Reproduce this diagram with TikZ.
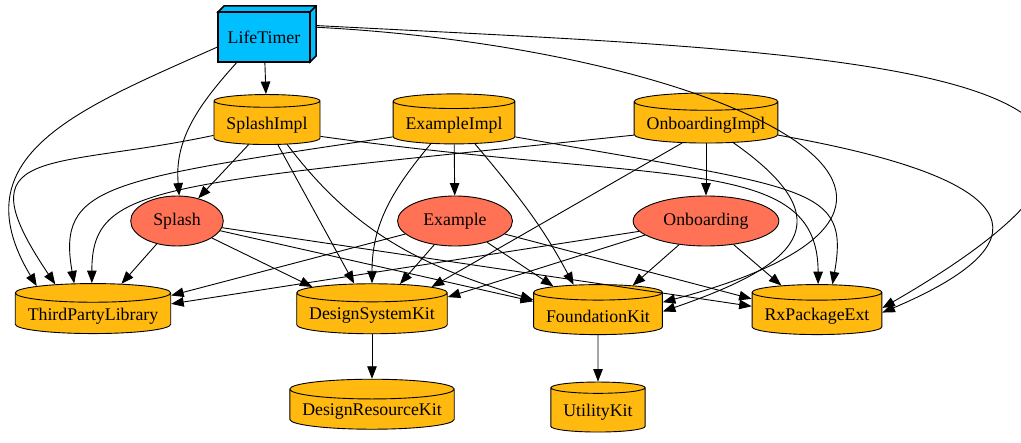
\documentclass[tikz,border=0pt]{standalone}
\usepackage{fontspec}
\setmainfont{Liberation Serif}
\usetikzlibrary{arrows.meta,shapes.geometric,positioning}
\definecolor{appblue}{HTML}{00BFFF}
\definecolor{modgold}{HTML}{FFB90F}
\definecolor{featcoral}{HTML}{FF7256}

\begin{document}
\begin{tikzpicture}[x=1pt,y=-1pt,->,>={Triangle[length=12.5pt,width=9.5pt]},line width=0.9pt,node distance=96pt,font=\fontsize{17.8}{20}\selectfont]
    \tikzstyle{app}=[rectangle,draw=black,fill=appblue,line width=1.5pt,outer sep=0pt,minimum width=92pt,minimum height=50pt]
    \tikzstyle{module}=[cylinder,shape border rotate=90,aspect=0.12,draw=black,fill=modgold,minimum height=50pt,inner xsep=12.5pt]
    \tikzstyle{feature}=[ellipse,draw=black,fill=featcoral,inner xsep=9pt,minimum height=50pt]
    \useasboundingbox (0,0) rectangle (1021,443);
    \node[app] (lt) at (264,37) {LifeTimer};
    \filldraw[-,fill=appblue,line width=1.5pt] (lt.north west) -- ++(6,-6) -- ([shift={(6,-6)}]lt.north east) -- ([shift={(6,-6)}]lt.south east) -- (lt.south east) -- (lt.north east) -- cycle;
    \draw[-,line width=1.5pt] (lt.north east) -- ++(6,-6);
    \node[module] (si) at (267,125) {SplashImpl};
    \node[module] (ei) at (454,125) {ExampleImpl};
    \node[module] (oi) at (706,125) {OnboardingImpl};
    \node[feature] (sp) at (177,221) {Splash};
    \node[feature] (ex) at (455,221) {Example};
    \node[feature] (on) at (706,221) {Onboarding};
    \node[module] (tp) at (93,316) {ThirdPartyLibrary};
    \node[module] (ds) at (372,316) {DesignSystemKit};
    \node[module] (fk) at (598,316) {FoundationKit};
    \node[module] (rx) at (817,316) {RxPackageExt};
    \node[module] (dr) [below of=ds] {DesignResourceKit};
    \node[module] (uk) [below of=fk] {UtilityKit};
    \path
        (lt) edge (si)
        (lt.192) edge[out=204,in=121,looseness=1.3] (tp.152)
        (lt.223) edge[out=228,in=95] (sp.85)
        ([xshift=6pt]lt.12) edge[out=-3,in=15,looseness=2.3] (fk.12)
        ([xshift=6pt]lt.14) edge[out=-3,in=30,looseness=2] (rx.7)
        (si.191) edge[out=192,in=124,looseness=2] (tp.140)
        (si) edge (sp)
        (si) edge (ds)
        (si.-44) edge[out=-53,in=163] (fk.166)
        (si.-12) edge[out=-8,in=90,out distance=350pt,in distance=130pt] (rx.88)
        (ei.191) edge[out=188.5,in=100,out distance=290pt,in distance=100pt] (tp.120)
        (ei) edge (ex)
        (ei.219) edge[out=230,in=90] (ds.90)
        (ei.-42) edge[out=-50,in=118] (fk.128)
        (ei.-11) edge[out=-10,in=80,out distance=300pt,in distance=100pt] (rx.64)
        (oi.188) edge[out=186,in=90,out distance=480pt,in distance=100pt] (tp.92)
        (oi) edge (on)
        (oi.217) edge (ds.26)
        (oi.-33) edge[out=-35,in=19,out distance=140pt,in distance=140pt] (fk.4)
        (oi.-8) edge[out=-10,in=23,out distance=270pt,in distance=170pt] (rx.3)
        (sp) edge (tp)
        (sp) edge (ds)
        (sp) edge (fk)
        (sp) edge (rx)
        (ex) edge (tp)
        (ex) edge (ds)
        (ex) edge (fk)
        (ex) edge (rx)
        (on) edge (tp)
        (on.193) edge (ds.14)
        (on) edge (fk)
        (on) edge (rx)
        (ds) edge (dr)
        (fk) edge (uk);
\end{tikzpicture}
\end{document}
